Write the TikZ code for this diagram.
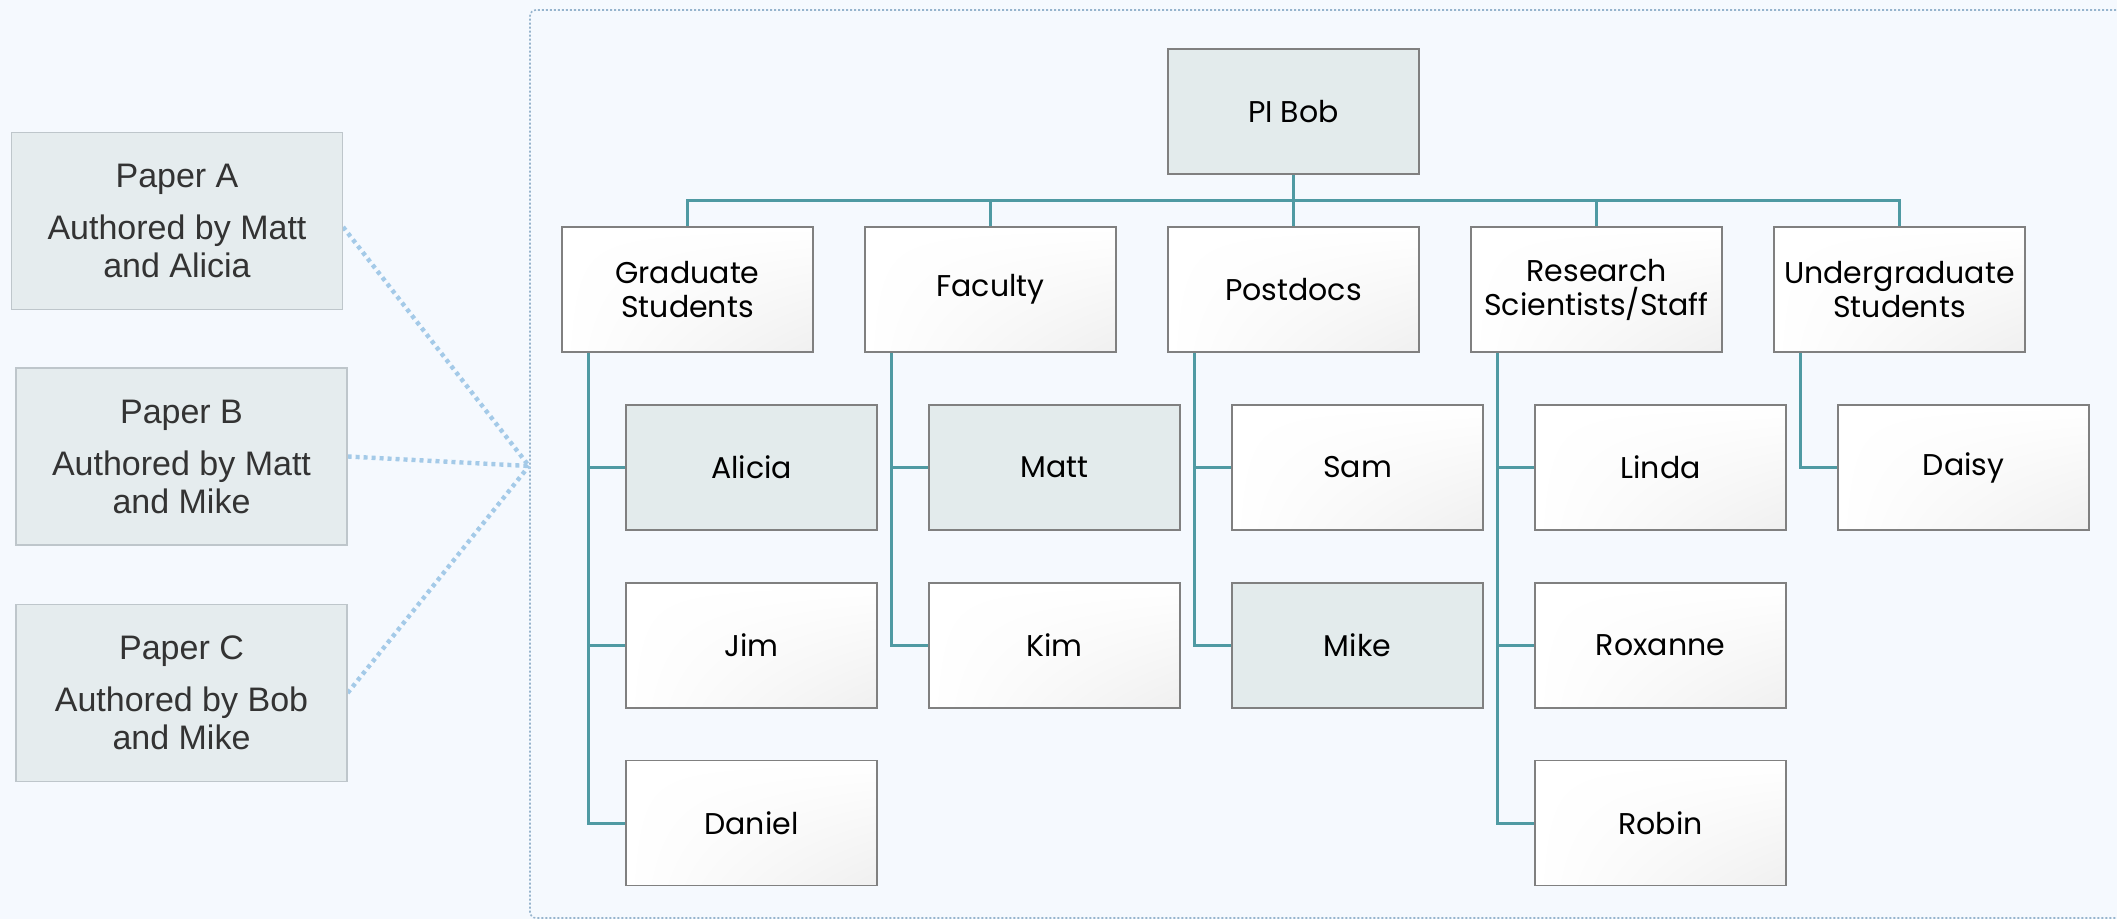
\documentclass[tikz,border=0pt]{standalone}
\usepackage{fontspec}
\usetikzlibrary{shadings}
\setmainfont{Liberation Sans}
\newfontfamily\gothic{Poppins}
\definecolor{bgc}{RGB}{245,249,254}
\definecolor{linkc}{RGB}{79,154,163}
\definecolor{hlc}{RGB}{227,235,236}
\definecolor{paperfill}{RGB}{229,236,238}
\definecolor{paperdraw}{RGB}{190,198,203}
\definecolor{dotc}{RGB}{164,202,232}
\definecolor{framec}{RGB}{150,180,205}
\definecolor{boxdraw}{RGB}{128,128,128}
\pgfdeclarelayer{back}
\pgfdeclarelayer{mid}
\pgfsetlayers{back,mid,main}
\begin{document}
\begin{tikzpicture}[x=0.5pt,y=-0.5pt,
  orgbase/.style={draw=boxdraw, line width=0.7pt, minimum width=125.5pt, minimum height=62.5pt,
    inner sep=0pt, align=center, text=black, font=\gothic\fontsize{15}{17}\selectfont},
  org/.style={orgbase, upper left=white, upper right=white, lower left=white, lower right=black!6},
  hi/.style={orgbase, fill=hlc},
  link/.style={draw=linkc, line width=1.5pt},
  paper/.style={draw=paperdraw, fill=paperfill, line width=0.6pt, minimum width=165.5pt,
    minimum height=88.5pt, inner sep=0pt, align=center, text=black!80,
    font=\fontsize{17}{19}\selectfont},
  dots/.style={draw=dotc, line width=2.2pt, dash pattern=on 2pt off 2pt}
]
\useasboundingbox (0,0) rectangle (2117,919);
\begin{pgfonlayer}{back}
  \fill[bgc] (0,0) rectangle (2117,919);
  \draw[framec, line width=0.8pt, dash pattern=on 1pt off 1pt, rounded corners=3pt]
    (2140,10) -- (530,10) -- (530,918) -- (2140,918);
\end{pgfonlayer}

% top
\node[hi] (bob) at (1293.5,111.5) {PI Bob};
% level 2
\node[org] (grad) at (687.5,289.5) {Graduate\\Students};
\node[org] (fac)  at (990.5,289.5) {Faculty};
\node[org] (post) at (1293.5,289.5) {Postdocs};
\node[org] (res)  at (1596.5,289.5) {Research\\Scientists/Staff};
\node[org] (ug)   at (1899.5,289.5) {Undergraduate\\Students};
% level 3
\node[hi]  (alicia) at (751.5,467.5) {Alicia};
\node[org] (jim)    at (751.5,645.5) {Jim};
\node[org] (daniel) at (751.5,823)   {Daniel};
\node[hi]  (matt)   at (1054.5,467.5) {Matt};
\node[org] (kim)    at (1054.5,645.5) {Kim};
\node[org] (sam)    at (1357.5,467.5) {Sam};
\node[hi]  (mike)   at (1357.5,645.5) {Mike};
\node[org] (linda)  at (1660.5,467.5) {Linda};
\node[org] (roxanne) at (1660.5,645.5) {Roxanne};
\node[org] (robin)  at (1660.5,823)   {Robin};
\node[org] (daisy)  at (1963.5,467.5) {Daisy};

% papers
\node[paper] (pa) at (177,221) {Paper A\\[7pt]Authored by Matt\\and Alicia};
\node[paper] (pb) at (181.5,456.5) {Paper B\\[7pt]Authored by Matt\\and Mike};
\node[paper] (pc) at (181.5,693) {Paper C\\[7pt]Authored by Bob\\and Mike};

\coordinate (bus) at (0,201);
\coordinate (conv) at (529,466);

\begin{pgfonlayer}{mid}
  \draw[link] (grad.north) -- (grad.north |- bus) -| (ug.north);
  \foreach \n in {fac,post,res} \draw[link] (\n.north) -- (\n.north |- bus);
  \draw[link] (bob.south) -- (bob.south |- bus);
  % grad
  \draw[link] ([xshift=13.5pt]grad.south west) |- (daniel.west);
  \draw[link] (alicia.west) -- ++(-37,0);
  \draw[link] (jim.west) -- ++(-37,0);
  % faculty
  \draw[link] ([xshift=13.5pt]fac.south west) |- (kim.west);
  \draw[link] (matt.west) -- ++(-37,0);
  % postdocs
  \draw[link] ([xshift=13.5pt]post.south west) |- (mike.west);
  \draw[link] (sam.west) -- ++(-37,0);
  % research
  \draw[link] ([xshift=13.5pt]res.south west) |- (robin.west);
  \draw[link] (linda.west) -- ++(-37,0);
  \draw[link] (roxanne.west) -- ++(-37,0);
  % undergrad
  \draw[link] ([xshift=13.5pt]ug.south west) |- (daisy.west);
  % paper links
  \draw[dots] ([yshift=-3pt]pa.east) -- (conv);
  \draw[dots] (pb.east) -- (conv);
  \draw[dots] (pc.east) -- (conv);
\end{pgfonlayer}
\end{tikzpicture}
\end{document}
